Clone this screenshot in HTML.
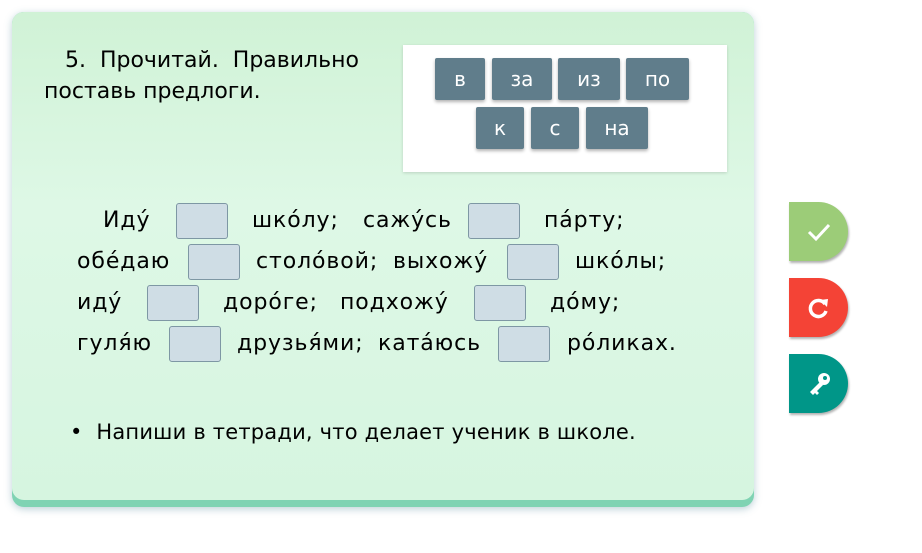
<!DOCTYPE html>
<html><head><meta charset="utf-8"><style>
body{margin:0;width:922px;height:553px;background:#fff;position:relative;overflow:hidden;font-family:"DejaVu Sans","Liberation Sans",sans-serif;color:#000}
.card{position:absolute;left:12px;top:12px;width:742px;height:495px;border-radius:12px;background:#7fd3b3;box-shadow:0 2px 8px rgba(60,120,140,.35)}
.inner{position:absolute;left:0;top:0;width:742px;height:488px;border-radius:12px;background:linear-gradient(#d0f2d6,#def8e6 40%,#d6f5e0)}
.a{position:absolute;white-space:nowrap}
.t{font-size:22px;line-height:36px;position:absolute;white-space:nowrap;letter-spacing:0.9px}
.b{position:absolute;background:#cfdde5;border:1.5px solid #7e97a4;border-radius:3px;box-sizing:border-box;width:52px;height:36px}
.wb{position:absolute;left:403px;top:45px;width:324px;height:127px;background:#fff;box-shadow:0 1px 3px rgba(0,0,0,.15)}
.p{position:absolute;height:42px;background:#607d8b;color:#fff;font-size:20px;line-height:42px;text-align:center;border-radius:2px;box-shadow:0 2px 3px rgba(0,0,0,.3)}
.btn{position:absolute;left:789px;width:59px;height:59px;border-radius:0 30px 30px 0;box-shadow:1px 2px 2px rgba(0,0,0,.3);color:#fff;text-align:center}
</style></head><body>
<div class="card"><div class="inner"></div></div>
<div class="a" style="left:44px;top:45px;font-size:22px;line-height:31px">&nbsp;&nbsp;&nbsp;5.&nbsp; Прочитай.&nbsp; Правильно<br>поставь предлоги.</div>
<div class="wb"></div>
<div class="p" style="left:435px;top:58px;width:50px">в</div>
<div class="p" style="left:492px;top:58px;width:60px">за</div>
<div class="p" style="left:558px;top:58px;width:62px">из</div>
<div class="p" style="left:626px;top:58px;width:63px">по</div>
<div class="p" style="left:476px;top:107px;width:48px">к</div>
<div class="p" style="left:531px;top:107px;width:48px">с</div>
<div class="p" style="left:586px;top:107px;width:62px">на</div>

<div class="t" style="left:103px;top:203px">Иду́</div><div class="b" style="left:176px;top:203px"></div>
<div class="t" style="left:252px;top:203px">шко́лу;</div><div class="t" style="left:363px;top:203px">сажу́сь</div>
<div class="b" style="left:468px;top:203px"></div><div class="t" style="left:544px;top:203px">па́рту;</div>

<div class="t" style="left:77px;top:244px">обе́даю</div><div class="b" style="left:188px;top:244px"></div>
<div class="t" style="left:256px;top:244px">столо́вой;</div><div class="t" style="left:393px;top:244px">выхожу́</div>
<div class="b" style="left:507px;top:244px"></div><div class="t" style="left:575px;top:244px">шко́лы;</div>

<div class="t" style="left:77px;top:285px">иду́</div><div class="b" style="left:147px;top:285px"></div>
<div class="t" style="left:223px;top:285px">доро́ге;</div><div class="t" style="left:340px;top:285px">подхожу́</div>
<div class="b" style="left:474px;top:285px"></div><div class="t" style="left:550px;top:285px">до́му;</div>

<div class="t" style="left:77px;top:326px">гуля́ю</div><div class="b" style="left:169px;top:326px"></div>
<div class="t" style="left:237px;top:326px">друзья́ми;</div><div class="t" style="left:378px;top:326px">ката́юсь</div>
<div class="b" style="left:498px;top:326px"></div><div class="t" style="left:567px;top:326px">ро́ликах.</div>

<div class="a" style="left:70px;top:418px;font-size:21px;line-height:28px;letter-spacing:0.2px">•&nbsp; Напиши в тетради, что делает ученик в школе.</div>

<div class="btn" style="top:202px;background:#9ccc78"><svg width="59" height="59" viewBox="0 0 59 59"><path d="M20 30 l7 7 l13 -14" stroke="#fff" stroke-width="3" fill="none"/></svg></div>
<div class="btn" style="top:278px;background:#f44336"><svg width="59" height="59" viewBox="0 0 59 59"><path d="M36 26 A8 8 0 1 0 37 33" stroke="#fff" stroke-width="3.5" fill="none"/><path d="M31 22 L39 21 L38 29 Z" fill="#fff"/></svg></div>
<div class="btn" style="top:354px;background:#009688"><svg width="59" height="59" viewBox="0 0 59 59"><circle cx="35" cy="25" r="6" fill="#fff"/><circle cx="36" cy="24" r="2" fill="#009688"/><path d="M31 28 L21 38 L24 41 L26 39 L28 41 L30 39 L28 37 L34 31 Z" fill="#fff"/></svg></div>
</body></html>
